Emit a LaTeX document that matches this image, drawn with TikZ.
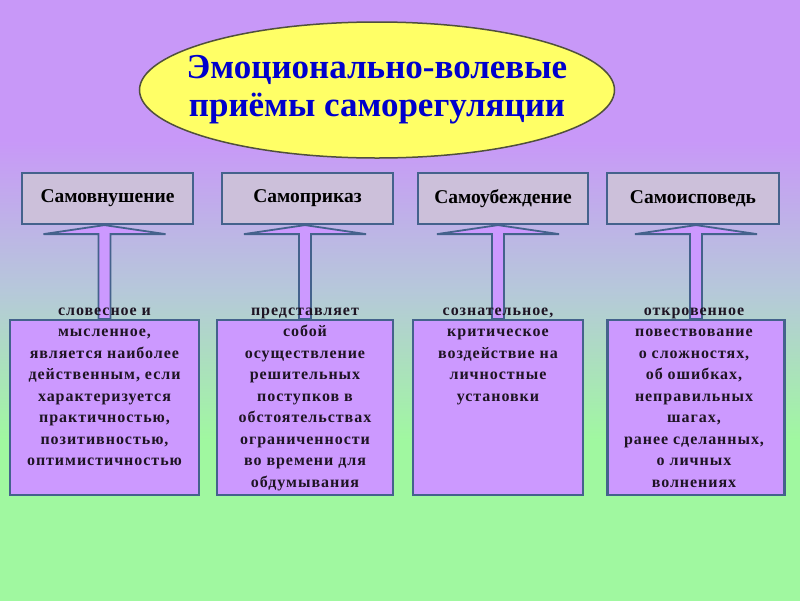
\documentclass[tikz,border=0pt]{standalone}
\usepackage{fontspec}
\setmainfont{Liberation Serif}
\newfontfamily\spacedserif{Liberation Serif}[LetterSpace=6]
\usetikzlibrary{shapes.geometric,calc}
\definecolor{bgviolet}{RGB}{200,152,248}
\definecolor{bgmid}{RGB}{182,200,218}
\definecolor{bggreen}{RGB}{160,248,160}
\definecolor{boxline}{RGB}{68,98,140}
\definecolor{topfill}{RGB}{204,192,218}
\definecolor{lowfill}{RGB}{204,153,255}
\definecolor{elfill}{RGB}{255,255,102}
\definecolor{elline}{RGB}{80,80,60}
\definecolor{titleblue}{RGB}{0,0,204}
\definecolor{bodytext}{RGB}{30,20,35}
\pgfdeclareverticalshading{bgshade}{100bp}{color(0bp)=(bggreen); color(38.3bp)=(bggreen); color(50.8bp)=(bgmid); color(63.3bp)=(bgviolet); color(100bp)=(bgviolet)}
\pgfdeclarelayer{bglayer}
\pgfdeclarelayer{arrowlayer}
\pgfsetlayers{bglayer,arrowlayer,main}
\newcommand\upblockarrow[2]{%
  \draw[barrow] (#1.north |- #2.south)
    -- ($(#1.north |- #2.south)+(61,9)$)
    -- ($(#1.north |- #2.south)+(6,9)$)
    -- ($(#1.north)+(6,0)$)
    -- ($(#1.north)+(-6,0)$)
    -- ($(#1.north |- #2.south)+(-6,9)$)
    -- ($(#1.north |- #2.south)+(-61,9)$) -- cycle;}
\newcommand\firstline[1]{\rule{0pt}{#1}}
\begin{document}
\begin{tikzpicture}[x=1pt,y=-1pt,
  topbox/.style={draw=boxline, line width=2.2pt, fill=topfill, minimum height=51pt, inner sep=0pt, text=black, font=\fontsize{19.5}{22}\selectfont\bfseries},
  lowbox/.style={draw=boxline, line width=2.2pt, fill=lowfill, minimum height=175pt, inner sep=0pt},
  lowtext/.style={anchor=north, align=center, inner sep=0pt, text=bodytext, font=\spacedserif\fontsize{16}{21.5}\selectfont\bfseries},
  barrow/.style={draw=boxline, line width=1.8pt, fill=lowfill, line join=miter},
  titleell/.style={ellipse, draw=elline, line width=1.5pt, fill=elfill, minimum width=475pt, minimum height=136pt, inner sep=0pt},
  titletext/.style={anchor=north, align=center, inner sep=0pt, text=titleblue, font=\fontsize{35}{38}\selectfont\bfseries}
  ]
\useasboundingbox (0,0) rectangle (800,600);
\begin{pgfonlayer}{bglayer}
  \shade[shading=bgshade] (0,0) rectangle (800,600);
\end{pgfonlayer}

\node[titleell] (title) at (377,90) {};
\node[titletext] (titletxt) at ($(title.center)+(0,-38)$) {\firstline{26pt}Эмоционально-волевые\\приёмы саморегуляции};

\node[topbox, minimum width=171pt] (t1) at (107.5,198.5) {Самовнушение};
\node[topbox, minimum width=171pt] (t2) at (307.5,198.5) {Самоприказ};
\node[topbox, minimum width=170pt] (t3) at (503,198.5) {Самоубеждение};
\node[topbox, minimum width=172pt] (t4) at (693,198.5) {Самоисповедь};

\node[lowbox, minimum width=189pt] (b1) at (104.5,407.5) {};
\node[lowbox, minimum width=176pt] (b2) at (305,407.5) {};
\node[lowbox, minimum width=170pt] (b3) at (498,407.5) {};
\node[lowbox, minimum width=177pt] (b4) at (696,407.5) {};

\begin{pgfonlayer}{arrowlayer}
  \upblockarrow{b1}{t1}
  \upblockarrow{b2}{t2}
  \upblockarrow{b3}{t3}
  \upblockarrow{b4}{t4}
\end{pgfonlayer}

\node[lowtext] (x1) at ($(b1.north)+(0,-16)$) {\firstline{12pt}словесное и\\мысленное,\\является наиболее\\действенным, если\\характеризуется\\практичностью,\\позитивностью,\\оптимистичностью};
\node[lowtext] (x2) at ($(b2.north)+(0,-16)$) {\firstline{12pt}представляет\\собой\\осуществление\\решительных\\поступков в\\обстоятельствах\\ограниченности\\во времени для\\обдумывания};
\node[lowtext] (x3) at ($(b3.north)+(0,-16)$) {\firstline{12pt}сознательное,\\критическое\\воздействие на\\личностные\\установки};
\node[lowtext] (x4) at ($(b4.north)+(-2,-16)$) {\firstline{12pt}откровенное\\повествование\\о сложностях,\\об ошибках,\\неправильных\\шагах,\\ранее сделанных,\\о личных\\волнениях};
\end{tikzpicture}
\end{document}
